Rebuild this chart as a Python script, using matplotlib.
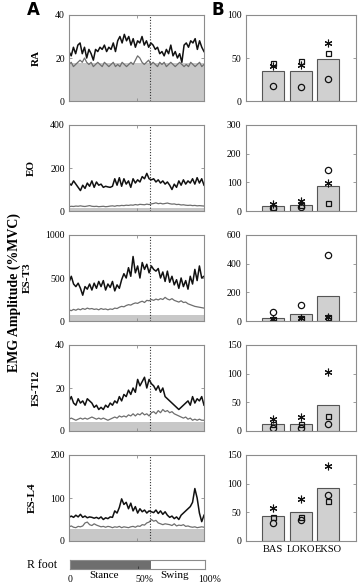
import numpy as np
import matplotlib.pyplot as plt

plt.rcParams['font.family'] = ['Liberation Serif', 'DejaVu Serif']

# muscle names and axis ranges
muscles = ['RA', 'EO', 'ES-T3', 'ES-T12', 'ES-L4']
a_ymax = [40, 400, 1000, 40, 200]
a_yticks = [[0, 20, 40], [0, 200, 400], [0, 500, 1000], [0, 20, 40], [0, 100, 200]]
b_ymax = [100, 300, 600, 150, 150]
b_yticks = [[0, 50, 100], [0, 100, 200, 300], [0, 200, 400, 600], [0, 50, 100, 150], [0, 50, 100, 150]]

# panel A: EKSO mean (black) and walking (gray) curves over gait cycle
ra_black = [23, 21, 25, 22, 26, 27, 22, 25, 20, 24, 22, 19, 24, 23, 25, 24, 26, 23, 25, 24,
            27, 23, 28, 30, 27, 31, 28, 30, 26, 29, 25, 28, 27, 30, 26, 28, 25, 27, 26, 24,
            25, 22, 23, 21, 24, 22, 26, 21, 23, 20, 22, 18, 26, 27, 25, 28, 27, 29, 24, 28,
            25, 23]
ra_gray = [17, 18, 16, 17, 18, 19, 18, 20, 18, 17, 18, 16, 17, 18, 17, 16, 18, 17, 16, 17,
           18, 16, 17, 16, 18, 17, 16, 17, 18, 17, 19, 21, 20, 18, 17, 18, 19, 17, 18, 17,
           16, 18, 17, 18, 16, 17, 18, 17, 16, 17, 18, 17, 16, 17, 16, 18, 17, 16, 17, 18,
           16, 17]
eo_black = [130, 120, 140, 125, 110, 95, 120, 105, 130, 115, 140, 110, 135, 120, 125, 110,
            115, 112, 110, 115, 150, 120, 155, 115, 150, 125, 140, 110, 150, 130, 145, 135,
            160, 150, 175, 150, 145, 150, 135, 145, 130, 140, 125, 135, 120, 100, 125, 110,
            140, 120, 145, 125, 140, 130, 150, 125, 155, 130, 150, 120]
eo_gray = [20, 22, 21, 23, 22, 24, 22, 21, 23, 25, 22, 21, 22, 20, 21, 22, 20, 21, 23, 24,
           22, 25, 24, 26, 25, 27, 26, 28, 27, 30, 28, 31, 30, 29, 32, 30, 33, 35, 38, 34,
           36, 33, 35, 37, 34, 32, 33, 30, 31, 28, 29, 27, 26, 27, 25, 26, 24, 25, 24, 23]
t3_black = [450, 520, 430, 400, 440, 380, 300, 400, 370, 430, 360, 440, 380, 460, 400, 470,
            360, 430, 390, 460, 350, 420, 380, 480, 550, 500, 620, 520, 750, 560, 640, 500,
            680, 600, 660, 560, 640, 600, 580, 610, 500, 570, 460, 580, 450, 520, 420, 480,
            380, 500, 400, 470, 370, 520, 430, 600, 470, 640, 500, 520]
t3_gray = [130, 120, 135, 125, 140, 130, 145, 135, 150, 140, 145, 135, 140, 130, 145, 135,
           140, 130, 140, 135, 150, 145, 160, 170, 165, 180, 190, 185, 200, 210, 205, 220,
           230, 215, 240, 235, 250, 240, 255, 245, 260, 250, 275, 255, 245, 260, 240, 230,
           220, 235, 215, 220, 200, 190, 180, 170, 165, 160, 155, 150]
t12_black = [14, 16, 13, 12, 15, 13, 14, 12, 15, 14, 13, 11, 12, 10, 11, 10, 12, 11, 13, 12,
             14, 13, 16, 14, 17, 16, 19, 17, 20, 18, 24, 21, 23, 25, 20, 24, 22, 21, 19, 21,
             18, 20, 16, 15, 14, 13, 12, 11, 10, 11, 12, 13, 14, 12, 16, 13, 15, 14, 16, 12]
t12_gray = [5.5, 6, 5.5, 5, 5.5, 6, 5.5, 6, 5.5, 6, 6.5, 6, 5.5, 6, 5.5, 6, 5.5, 5, 5.5, 6,
            6.5, 6, 7, 6.5, 7, 6.5, 7.5, 7, 8, 7, 8, 7.5, 8.5, 7.5, 8, 7, 8.5, 9, 8, 9.5,
            8.5, 10, 9, 9.5, 8.5, 9, 8, 7.5, 7, 6.5, 6, 6.5, 5.5, 6, 5, 5.5, 5, 5.5, 5, 5]
l4_black = [55, 58, 55, 60, 56, 62, 55, 58, 54, 56, 55, 53, 55, 52, 56, 50, 54, 52, 56, 55,
            70, 65, 78, 98, 85, 90, 75, 88, 70, 80, 65, 75, 68, 72, 65, 70, 68, 66, 72, 64,
            70, 62, 68, 60, 55, 58, 52, 56, 50, 60, 65, 70, 75, 80, 90, 122, 100, 65, 45, 60]
l4_gray = [33, 35, 32, 31, 34, 33, 35, 42, 44, 38, 36, 40, 37, 35, 33, 34, 32, 34, 33, 31,
           33, 32, 34, 31, 33, 32, 31, 33, 34, 32, 35, 34, 38, 37, 42, 44, 50, 46, 48, 42,
           40, 38, 40, 39, 38, 36, 40, 35, 37, 36, 38, 34, 35, 33, 32, 33, 31, 32, 33, 32]
a_black = [ra_black, eo_black, t3_black, t12_black, l4_black]
a_gray = [ra_gray, eo_gray, t3_gray, t12_gray, l4_gray]
fill_level = [17.5, 12, 65, 4.2, 29]
toe_off = 60

# panel B: bar means and individual subjects
groups = ['BAS', 'LOKO', 'EKSO']
bar_means = [[35, 35, 49], [17, 22, 87], [23, 48, 174], [13, 13, 46], [43, 50, 93]]
subj_circle = [[18, 16, 26], [10, 14, 143], [66, 112, 462], [6, 6, 12], [31, 36, 81]]
subj_square = [[44, 47, 56], [14, 20, 27], [11, 23, 27], [13, 13, 26], [41, 42, 69]]
subj_star = [[41, 42, 67], [26, 35, 97], [11, 23, 27], [21, 25, 103], [58, 74, 131]]

W, H = 358, 585
fig = plt.figure(figsize=(W / 100, H / 100), dpi=100)

def box(x0, y0, w, h):
    return [x0 / W, 1 - (y0 + h) / H, w / W, h / H]

spine_col = '#8c8c8c'

def style(ax):
    for s in ax.spines.values():
        s.set_color(spine_col)
        s.set_linewidth(0.8)
    ax.tick_params(direction='in', length=2, width=0.6, color=spine_col,
                   labelsize=7, pad=3, top=True, right=True)

for i in range(5):
    top = 15 + 110 * i
    # panel A
    ax = fig.add_axes(box(69, top, 135, 86))
    x = np.linspace(0, 100, len(a_black[i]))
    xg = np.linspace(0, 100, len(a_gray[i]))
    ax.fill_between([0, 100], 0, fill_level[i], color='#c8c8c8', lw=0)
    ax.plot(xg, a_gray[i], color='#6e6e6e', lw=0.9)
    ax.plot(x, a_black[i], color='#111111', lw=1.1)
    ax.axvline(toe_off, color='#333333', lw=0.8, ls=(0, (1, 1.5)))
    ax.set_xlim(0, 100)
    ax.set_ylim(0, a_ymax[i])
    ax.set_xticks([0, 50, 100])
    ax.set_xticklabels([])
    ax.set_yticks(a_yticks[i])
    style(ax)
    ax.set_ylabel(muscles[i], fontsize=8, fontweight='bold', labelpad=10)

    # panel B
    bx = fig.add_axes(box(245.5, top, 110.5, 86))
    pos = np.arange(1, 4)
    bx.bar(pos, bar_means[i], width=0.8, color='#d0d0d0', edgecolor='#555555', lw=0.8)
    bx.plot(pos, subj_circle[i], 'o', mfc='none', mec='#111111', ms=4.5, mew=0.9)
    bx.plot(pos, subj_square[i], 's', mfc='none', mec='#111111', ms=3.6, mew=0.9)
    bx.plot(pos, subj_star[i], marker=(6, 2, 0), ls='none', mec='#111111', ms=5.5, mew=0.8)
    bx.set_xlim(0, 4)
    bx.set_ylim(0, b_ymax[i])
    bx.set_yticks(b_yticks[i])
    bx.set_xticks(pos)
    style(bx)
    bx.tick_params(axis='x', length=0, top=False)
    if i == 4:
        bx.set_xticklabels(groups, fontsize=7.5)
    else:
        bx.set_xticklabels([])

# gait bar
gx = fig.add_axes(box(70, 560, 135, 9))
gx.barh(0, toe_off, height=1, left=0, color='#6e6e6e', lw=0)
gx.set_xlim(0, 100)
gx.set_ylim(-0.5, 0.5)
gx.set_yticks([])
gx.set_xticks([50])
gx.set_xticklabels([])
for s in gx.spines.values():
    s.set_color(spine_col)
    s.set_linewidth(0.8)
gx.tick_params(direction='in', length=2, width=0.6, color='#333333')
fig.text(57 / W, 1 - 565 / H, 'R foot', fontsize=8.5, ha='right', va='center')
fig.text(70 / W, 1 - 580 / H, '0', fontsize=7, ha='center', va='center')
fig.text(104 / W, 1 - 576 / H, 'Stance', fontsize=8, ha='center', va='center')
fig.text(144 / W, 1 - 580 / H, '50%', fontsize=7, ha='center', va='center')
fig.text(175 / W, 1 - 576 / H, 'Swing', fontsize=8, ha='center', va='center')
fig.text(210 / W, 1 - 580 / H, '100%', fontsize=7, ha='center', va='center')

fig.text(14 / W, 1 - 293 / H, 'EMG Amplitude (%MVC)', fontsize=10, fontweight='bold',
         rotation=90, ha='center', va='center')
fig.text(33 / W, 1 - 10 / H, 'A', fontsize=12, fontweight='bold', family='DejaVu Sans',
         ha='center', va='center')
fig.text(218 / W, 1 - 10 / H, 'B', fontsize=12, fontweight='bold', family='DejaVu Sans',
         ha='center', va='center')

fig.savefig('out.png', dpi=100)
